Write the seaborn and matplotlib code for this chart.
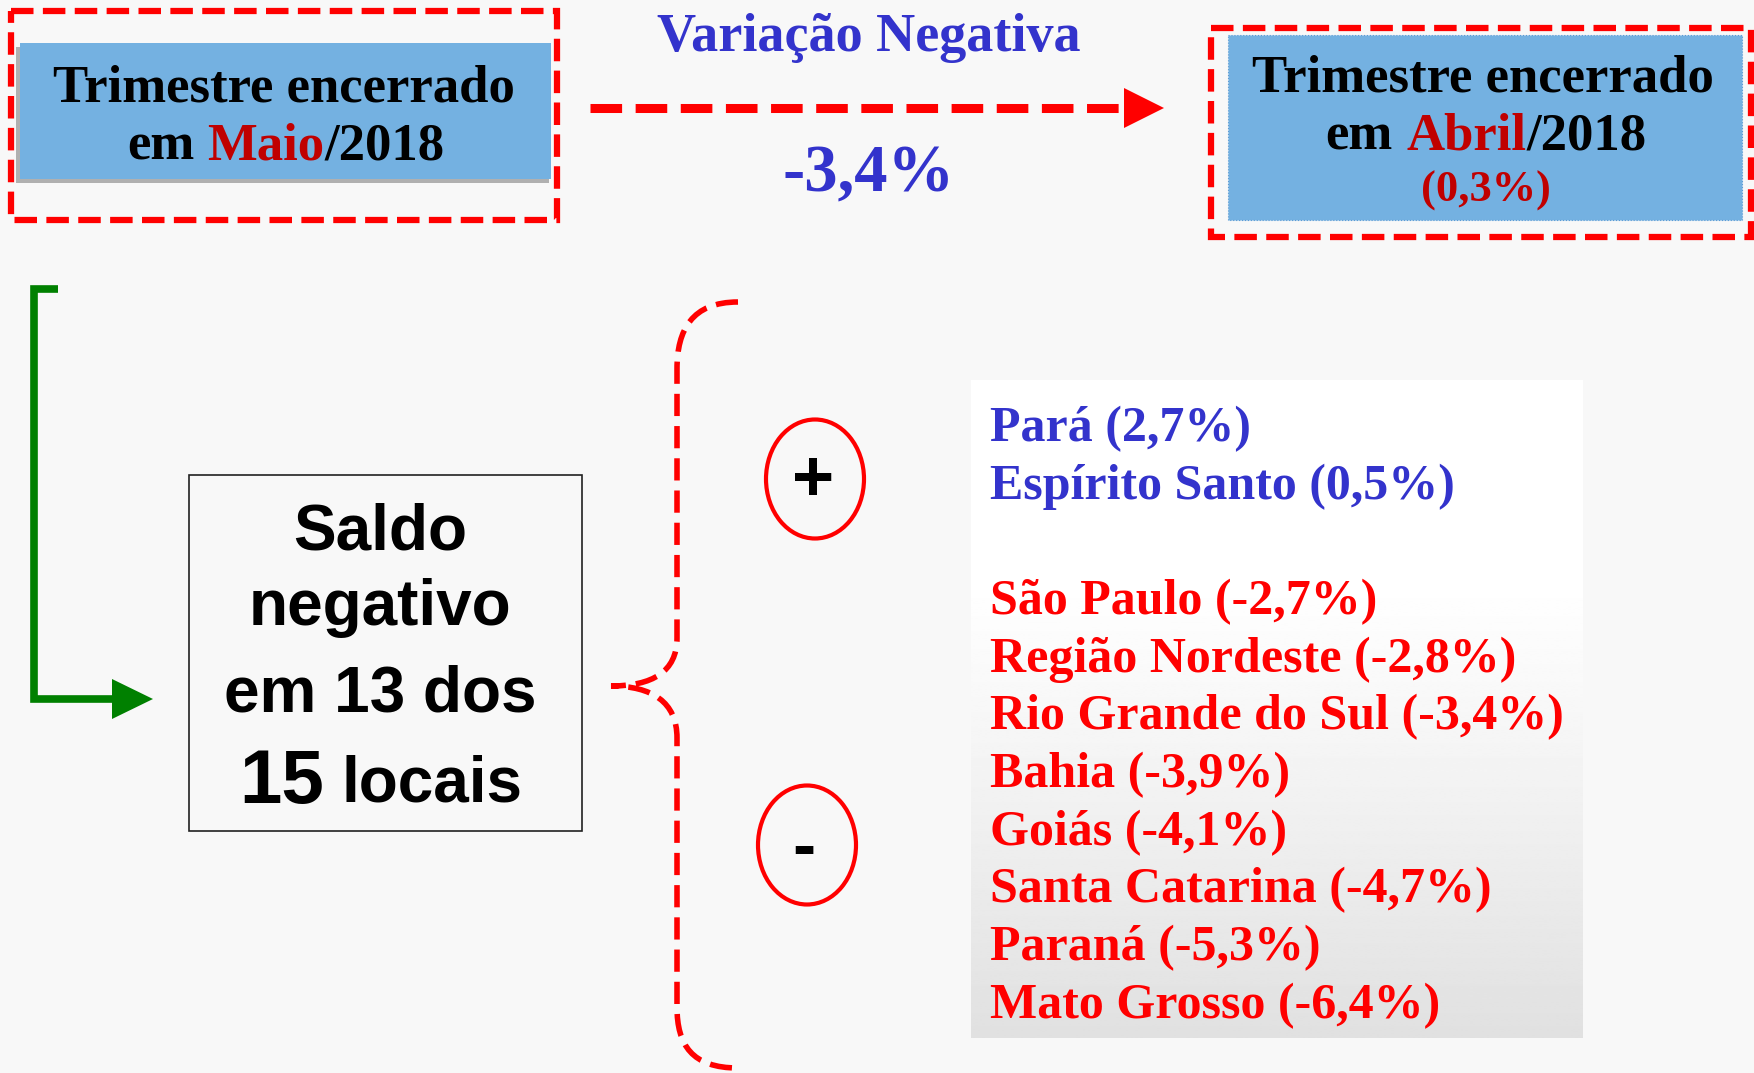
import numpy as np
import matplotlib.pyplot as plt
from matplotlib.patches import Rectangle, Ellipse, Polygon, PathPatch
from matplotlib.path import Path
import seaborn as sns

# dados
regioes = ['Pará', 'Espírito Santo', 'São Paulo', 'Região Nordeste',
           'Rio Grande do Sul', 'Bahia', 'Goiás', 'Santa Catarina',
           'Paraná', 'Mato Grosso']
variacao = [2.7, 0.5, -2.7, -2.8, -3.4, -3.9, -4.1, -4.7, -5.3, -6.4]
var_total = -3.4
var_anterior = 0.3
mes_atual, mes_anterior, ano = 'Maio', 'Abril', 2018
locais_neg, locais_total = 13, 15

W, H = 1754, 1073
BG = '#f8f8f8'
RED = '#ff0000'
DARKRED = '#c00000'
BLUE_TXT = '#3333cc'
BLUE_BOX = '#74b1e1'
GREEN = '#008000'
SERIF = ['Liberation Serif', 'DejaVu Serif']
SANS = ['Liberation Sans', 'DejaVu Sans']

sns.set_theme(style='white')
plt.rcParams['font.family'] = SERIF
plt.rcParams['text.color'] = 'black'

fig = plt.figure(figsize=(W / 100, H / 100), dpi=100)
fig.patch.set_facecolor(BG)
ax = fig.add_axes([0, 0, 1, 1])
ax.set_facecolor(BG)
ax.set_xlim(0, W)
ax.set_ylim(H, 0)
ax.axis('off')
rend = fig.canvas.get_renderer()
DY = 4  # ajuste vertical do texto


def pct(v):
    return f'{v:.1f}%'.replace('.', ',')


def rich_line(x, y, parts, gap, **kw):
    # parts: (texto, cor, tamanho) centrados em x
    arts = [ax.text(0, y + DY, s, color=c, fontsize=fs, ha='left', va='center', **kw)
            for s, c, fs in parts]
    widths = [a.get_window_extent(rend).width for a in arts]
    total = sum(widths) + sum(gap)
    cur = x - total / 2
    for i, (a, w) in enumerate(zip(arts, widths)):
        a.set_x(cur)
        cur += w + (gap[i] if i < len(gap) else 0)


# caixa esquerda
ax.add_patch(Rectangle((11, 11), 546, 209, fill=False, ec=RED, lw=4.5,
                       ls=(0, (3.6, 1.5))))
ax.add_patch(Rectangle((16, 47), 533, 136, fc='#b0b0b0', ec='none'))
ax.add_patch(Rectangle((20, 43), 531, 136, fc=BLUE_BOX, ec='none'))
ax.text(284, 84 + DY, 'Trimestre encerrado', fontsize=38, fontweight='bold',
        ha='center', va='center')
sp = 38 * 100 / 72 * 0.25
rich_line(286, 142, [('em', 'black', 38), (mes_atual, DARKRED, 38), (f'/{ano}', 'black', 38)],
          [sp, 0], fontweight='bold')

# caixa direita
ax.add_patch(Rectangle((1211, 28), 540, 209, fill=False, ec=RED, lw=4.5,
                       ls=(0, (3.6, 1.5))))
ax.add_patch(Rectangle((1228, 35), 514, 185, fc=BLUE_BOX, ec='#5b9bd5', lw=0.8, ls=':'))
ax.text(1483, 75 + DY, 'Trimestre encerrado', fontsize=38, fontweight='bold',
        ha='center', va='center')
rich_line(1486, 133, [('em', 'black', 38), (mes_anterior, DARKRED, 38), (f'/{ano}', 'black', 38)],
          [sp, 0], fontweight='bold')
ax.text(1486, 187 + DY, f'({pct(var_anterior)})', fontsize=32, fontweight='bold',
        color=DARKRED, ha='center', va='center')

# seta do topo
ax.plot([590, 1126], [108, 108], color=RED, lw=6.5, ls=(0, (3.5, 1.5)),
        solid_capstyle='butt')
ax.add_patch(Polygon([(1124, 88), (1164, 108), (1124, 128)], closed=True,
                     fc=RED, ec='none'))
ax.text(869, 34 + DY, 'Variação Negativa', fontsize=39, fontweight='bold',
        color=BLUE_TXT, ha='center', va='center')
ax.text(869, 171 + DY, pct(var_total), fontsize=48, fontweight='bold',
        color=BLUE_TXT, ha='center', va='center')

# conector verde
ax.plot([58, 34, 34, 115], [289, 289, 699, 699], color=GREEN, lw=5.5,
        solid_joinstyle='miter', solid_capstyle='butt')
ax.add_patch(Polygon([(112, 679), (153, 699), (112, 719)], closed=True,
                     fc=GREEN, ec='none'))

# caixa saldo
ax.add_patch(Rectangle((189, 475), 393, 356, fill=False, ec='#222222', lw=1.2))
for yy, s in [(528, 'Saldo'), (604, 'negativo'), (691, f'em {locais_neg} dos')]:
    ax.text(380, yy + DY, s, fontsize=46, fontweight='bold', family=SANS,
            ha='center', va='center')
rich_line(381, 780, [(str(locais_total), 'black', 55), ('locais', 'black', 46)],
          [46 * 100 / 72 * 0.278], fontweight='bold', family=SANS)

# chave
verts = [(738, 302), (692, 302), (677, 330), (677, 369),
         (677, 638),
         (677, 672), (652, 686), (611, 686),
         (652, 686), (677, 702), (677, 738),
         (677, 1007),
         (677, 1045), (692, 1068), (738, 1068)]
codes = [Path.MOVETO, Path.CURVE4, Path.CURVE4, Path.CURVE4,
         Path.LINETO,
         Path.CURVE4, Path.CURVE4, Path.CURVE4,
         Path.CURVE4, Path.CURVE4, Path.CURVE4,
         Path.LINETO,
         Path.CURVE4, Path.CURVE4, Path.CURVE4]
ax.add_patch(PathPatch(Path(verts, codes), fill=False, ec=RED, lw=4,
                       ls=(0, (4, 1.8))))

# sinais
ax.add_patch(Ellipse((815, 479), 98, 119, fill=False, ec=RED, lw=3))
ax.text(813, 482, '+', fontsize=52, fontweight='bold', family=SANS,
        ha='center', va='center')
ax.add_patch(Ellipse((807, 845), 98, 119, fill=False, ec=RED, lw=3))
ax.text(804, 850, '-', fontsize=50, fontweight='bold', family=SANS,
        ha='center', va='center')

# painel da lista
t = np.linspace(0, 1, 300)
grad = 1 - 0.12 * np.clip((t - 0.3) / 0.7, 0, 1) ** 1.1
ax.imshow(grad[:, None], cmap='gray', vmin=0, vmax=1, aspect='auto',
          extent=(971, 1583, 1038, 380), interpolation='bilinear', zorder=0.5)
ax.set_xlim(0, W)
ax.set_ylim(H, 0)

y = 425
for nome, v in zip(regioes, variacao):
    if v < 0 and y < 598:
        y = 598
    ax.text(990, y + DY, f'{nome} ({pct(v)})', fontsize=36, fontweight='bold',
            color=BLUE_TXT if v >= 0 else RED, ha='left', va='center')
    y += 57.7

fig.savefig('out.png', dpi=100, facecolor=BG)
